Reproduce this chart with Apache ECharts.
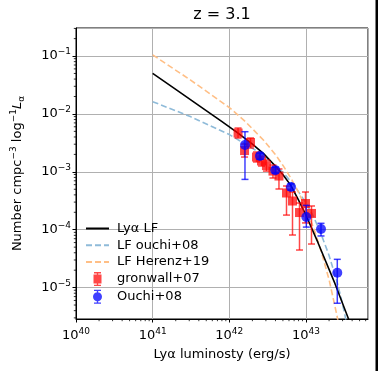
<!DOCTYPE html>
<html><head><meta charset="utf-8">
<script src="https://cdn.jsdelivr.net/npm/echarts@6/dist/echarts.min.js"></script>
<style>html,body{margin:0;padding:0;background:#fff}#c{width:378px;height:371px}</style>
</head><body><div id="c"></div>
<script>
// ---- data ----
const lyaL = [1e41, 2.0e41, 3.98e41, 7.94e41, 1.26e42, 2.0e42, 2.82e42, 3.98e42, 5.01e42, 6.31e42, 7.94e42, 1.0e43, 1.43e43, 2.39e43, 3.56e43, 3.98e43];
const lyaN = [0.0501, 0.0266, 0.0141, 7.41e-3, 4.79e-3, 3.02e-3, 2.04e-3, 1.26e-3, 8.91e-4, 5.89e-4, 3.31e-4, 1.78e-4, 6.03e-5, 1.17e-5, 2.95e-6, 2.0e-6];

const ouchiLfL = [1e41, 3.16e41, 1e42, 2.51e42, 5.01e42, 7.08e42, 1e43, 1.26e43, 1.58e43, 2.0e43, 2.51e43, 2.82e43, 3.16e43, 3.31e43];
const ouchiLfN = [0.0163, 8.9e-3, 4.4e-3, 2.13e-3, 9.8e-4, 5.75e-4, 2.9e-4, 1.66e-4, 8.3e-5, 3.6e-5, 1.32e-5, 7.3e-6, 3.8e-6, 2.8e-6];

const herenzL = [1e41, 3.16e41, 1e42, 1.58e42, 2.16e42, 2.82e42, 3.98e42, 5.01e42, 6.31e42, 7.94e42, 1e43, 1.26e43, 1.58e43, 2.0e43, 2.51e43, 2.69e43];
const herenzN = [0.105, 0.038, 0.0129, 7.6e-3, 5.0e-3, 3.47e-3, 2.0e-3, 1.29e-3, 7.9e-4, 4.5e-4, 2.3e-4, 1.07e-4, 4.2e-5, 1.38e-5, 3.5e-6, 2.2e-6];

const gronL  = [1.30e42, 1.58e42, 1.89e42, 2.26e42, 2.63e42, 3.05e42, 3.71e42, 4.44e42, 5.57e42, 6.67e42, 8.23e42, 9.85e42, 1.18e43];
const gronN  = [4.68e-3, 2.33e-3, 3.21e-3, 1.80e-3, 1.54e-3, 1.28e-3, 1.03e-3, 8.46e-4, 4.31e-4, 3.13e-4, 1.98e-4, 2.84e-4, 1.91e-4];
const gronHi = [5.71e-3, 3.02e-3, 3.84e-3, 2.20e-3, 1.87e-3, 1.60e-3, 1.31e-3, 1.12e-3, 5.69e-4, 4.48e-4, 2.89e-4, 4.48e-4, 2.57e-4];
const gronLo = [3.84e-3, 1.80e-3, 2.58e-3, 1.48e-3, 1.26e-3, 1.03e-3, 7.82e-4, 5.05e-4, 1.79e-4, 8.10e-5, 4.46e-5, 1.31e-4, 5.66e-5];

const ouchiL  = [1.60e42, 2.51e42, 3.98e42, 6.37e42, 1.01e43, 1.57e43, 2.56e43];
const ouchiN  = [2.90e-3, 1.87e-3, 1.07e-3, 5.46e-4, 1.66e-4, 1.03e-4, 1.81e-5];
const ouchiHi = [4.93e-3, 2.10e-3, 1.20e-3, 6.20e-4, 2.63e-4, 1.29e-4, 3.08e-5];
const ouchiLo = [7.40e-4, 1.65e-3, 0.95e-3, 4.80e-4, 1.11e-4, 7.80e-5, 5.37e-6];

const xMin = 1e40, xMax = 6.44e43;
const yMin = 2.87e-6, yMax = 0.305;
const xMinor = [];
for (let e = 40; e <= 43; e++) for (let k = 2; k <= 9; k++) { const v = k * Math.pow(10, e); if (v < xMax) xMinor.push(v); }
const yMinor = [];
for (let e = -6; e <= -1; e++) for (let k = 2; k <= 9; k++) { const v = k * Math.pow(10, e); if (v > yMin && v < yMax) yMinor.push(v); }

const FONT = 'DejaVu Sans';
const zip = (a, b) => a.map((v, i) => [v, b[i]]);
const RED = 'rgba(255,0,0,0.72)';
const BLUE = 'rgba(0,0,255,0.75)';

function powLabel(v) {
  const e = Math.round(Math.log10(v));
  return '{b|10}{s|' + (e < 0 ? '\u2212' : '') + Math.abs(e) + '}';
}
const tickRich = {
  b: { fontSize: 13, fontFamily: FONT, color: '#000', lineHeight: 17 },
  s: { fontSize: 9, fontFamily: FONT, color: '#000', lineHeight: 10, verticalAlign: 'top' }
};

function errSeries(name, L, lo, hi, color, z) {
  return {
    type: 'custom', name: name, silent: true, z: z, clip: false,
    data: L.map((l, i) => [l, lo[i], hi[i]]),
    encode: { x: 0, y: [1, 2] },
    renderItem: function (params, api) {
      const x = api.value(0);
      const p1 = api.coord([x, api.value(1)]);
      const p2 = api.coord([x, api.value(2)]);
      const st = { stroke: color, lineWidth: 1.5 };
      const cap = 3.5;
      return { type: 'group', children: [
        { type: 'line', shape: { x1: p1[0], y1: p1[1], x2: p2[0], y2: p2[1] }, style: st },
        { type: 'line', shape: { x1: p1[0] - cap, y1: p1[1], x2: p1[0] + cap, y2: p1[1] }, style: st },
        { type: 'line', shape: { x1: p2[0] - cap, y1: p2[1], x2: p2[0] + cap, y2: p2[1] }, style: st }
      ]};
    }
  };
}

const noSym = { opacity: 0 };
const chart = echarts.init(document.getElementById('c'), null, { renderer: 'canvas' });
chart.setOption({
  animation: false,
  backgroundColor: '#fff',
  grid: { left: 76, top: 28, right: 10, bottom: 52, show: true, borderColor: '#000', borderWidth: 1, containLabel: false },
  graphic: [
    { type: 'text', x: 222, y: 15, style: { text: 'z = 3.1', font: '16px "DejaVu Sans"', fill: '#000', textAlign: 'center', textVerticalAlign: 'middle' } },
    { type: 'rect', shape: { x: 375.5, y: 0, width: 2.5, height: 371 }, style: { fill: '#000' } }
  ],
  legend: {
    orient: 'vertical', left: 85, top: 222, padding: 0,
    itemWidth: 23, itemHeight: 14, itemGap: 3.7,
    textStyle: { fontSize: 13, fontFamily: FONT, color: '#000', padding: [0, 0, 0, 3] },
    data: [
      { name: 'Ly\u03b1 LF', itemStyle: noSym },
      { name: 'LF ouchi+08', itemStyle: noSym },
      { name: 'LF Herenz+19', itemStyle: noSym },
      { name: 'gronwall+07', icon: 'path://M1,2.5H9V11.5H1Z M4.3,0H5.7V14H4.3Z M1.5,0H8.5V1.3H1.5Z M1.5,12.7H8.5V14H1.5Z' },
      { name: 'Ouchi+08', icon: 'path://M0.5,7A4.5,4.5 0 1 1 9.5,7A4.5,4.5 0 1 1 0.5,7Z M4.3,0H5.7V14H4.3Z M1.5,0H8.5V1.3H1.5Z M1.5,12.7H8.5V14H1.5Z' }
    ]
  },
  xAxis: {
    type: 'log', logBase: 10, min: xMin, max: xMax,
    name: 'Ly\u03b1 luminosty (erg/s)', nameLocation: 'middle', nameGap: 29,
    nameTextStyle: { fontSize: 13, fontFamily: FONT, color: '#000' },
    axisLine: { show: true, lineStyle: { color: '#000', width: 1 } },
    axisTick: { show: true, length: 3.5, inside: false, lineStyle: { color: '#000', width: 1 } },
    minorTick: { show: false },
    splitLine: { show: true, lineStyle: { color: '#b0b0b0', width: 1 } },
    axisLabel: { formatter: powLabel, rich: tickRich, margin: 8, showMaxLabel: false, showMinLabel: true, color: '#000' }
  },
  yAxis: {
    type: 'log', logBase: 10, min: yMin, max: yMax,
    name: '{n|Number cmpc}{s|\u22123}{n| log}{s|\u22121}{i|L}{u|\u03b1}', nameLocation: 'middle', nameGap: 50, nameRotate: 90,
    nameTextStyle: { fontSize: 13, fontFamily: FONT, color: '#000', rich: {
      n: { fontSize: 13, fontFamily: FONT, color: '#000', lineHeight: 17 },
      s: { fontSize: 9, fontFamily: FONT, color: '#000', lineHeight: 10, verticalAlign: 'top' },
      i: { fontSize: 13, fontFamily: FONT, fontStyle: 'italic', color: '#000', lineHeight: 17 },
      u: { fontSize: 9, fontFamily: FONT, color: '#000', lineHeight: 10, verticalAlign: 'bottom' }
    } },
    axisLine: { show: true, lineStyle: { color: '#000', width: 1 } },
    axisTick: { show: true, length: 3.5, inside: false, lineStyle: { color: '#000', width: 1 } },
    minorTick: { show: false },
    splitLine: { show: true, lineStyle: { color: '#b0b0b0', width: 1 } },
    axisLabel: { formatter: powLabel, rich: tickRich, margin: 5, showMaxLabel: false, showMinLabel: false, color: '#000' }
  },
  series: [
    { type: 'line', name: 'Ly\u03b1 LF', data: zip(lyaL, lyaN), showSymbol: false, symbol: 'none', z: 3,
      lineStyle: { color: '#000', width: 1.6 }, itemStyle: { color: '#000' } },
    { type: 'line', name: 'LF ouchi+08', data: zip(ouchiLfL, ouchiLfN), showSymbol: false, symbol: 'none', z: 2,
      lineStyle: { color: '#8fbbd9', width: 1.6, type: [6, 3] }, itemStyle: { color: '#8fbbd9' } },
    { type: 'line', name: 'LF Herenz+19', data: zip(herenzL, herenzN), showSymbol: false, symbol: 'none', z: 2,
      lineStyle: { color: '#ffbf86', width: 1.6, type: [6, 3] }, itemStyle: { color: '#ffbf86' } },
    errSeries('gr_err', gronL, gronLo, gronHi, RED, 4),
    { type: 'scatter', name: 'gronwall+07', data: zip(gronL, gronN), symbol: 'rect', symbolSize: 9, z: 4,
      itemStyle: { color: RED, opacity: 1 } },
    errSeries('ou_err', ouchiL, ouchiLo, ouchiHi, BLUE, 5),
    { type: 'scatter', name: 'Ouchi+08', data: zip(ouchiL, ouchiN), symbol: 'circle', symbolSize: 10, z: 5,
      itemStyle: { color: BLUE, opacity: 1 } },
    { type: 'custom', name: 'xminor', silent: true, clip: false, z: 10,
      data: xMinor.map(v => [v, yMin]),
      renderItem: function (params, api) {
        const c = api.coord([api.value(0), yMin]);
        return { type: 'line', shape: { x1: c[0], y1: c[1], x2: c[0], y2: c[1] + 2.2 }, style: { stroke: '#000', lineWidth: 0.8 } };
      } },
    { type: 'custom', name: 'yminor', silent: true, clip: false, z: 10,
      data: yMinor.map(v => [xMin, v]),
      renderItem: function (params, api) {
        const c = api.coord([xMin, api.value(1)]);
        return { type: 'line', shape: { x1: c[0] - 2.2, y1: c[1], x2: c[0], y2: c[1] }, style: { stroke: '#000', lineWidth: 0.8 } };
      } }
  ]
});
</script>
</body></html>
